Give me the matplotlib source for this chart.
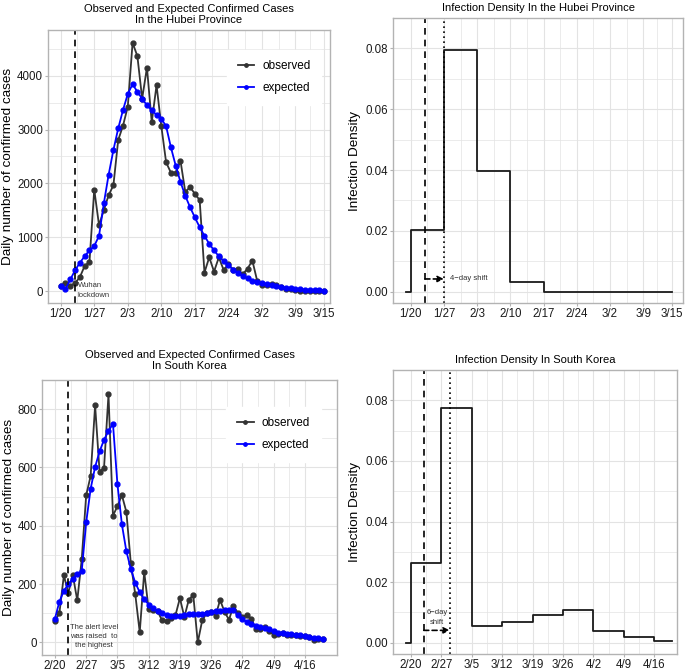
import matplotlib
matplotlib.use('Agg')
import matplotlib.pyplot as plt
import numpy as np

plt.rcParams['font.family'] = ['Liberation Sans', 'DejaVu Sans']

# Hubei: days since 1/20
hubei_ticks = ['1/20', '1/27', '2/3', '2/10', '2/17', '2/24', '3/2', '3/9', '3/15']
hubei_tick_days = [0, 7, 14, 21, 28, 35, 42, 49, 55]
hubei_obs = [105, 153, 100, 153, 263, 471, 541, 1885, 1226, 1507,
             1781, 1967, 2805, 3070, 3424, 4608, 4361, 3573, 4148, 3135,
             3822, 3062, 2391, 2200, 2200, 2420, 1843, 1933, 1807, 1693,
             349, 631, 366, 630, 398, 499, 401, 409, 318, 423,
             570, 196, 114, 115, 134, 126, 74, 41, 36, 17,
             13, 8, 5, 4, 4, 4]
hubei_exp = [105, 40, 220, 390, 530, 650, 760, 840, 1030, 1630,
             2160, 2620, 3020, 3360, 3660, 3840, 3700, 3570, 3450, 3360,
             3270, 3200, 3060, 2670, 2330, 2030, 1770, 1560, 1370, 1190,
             1030, 880, 760, 650, 560, 480, 400, 340, 280, 240,
             200, 175, 150, 130, 110, 95, 80, 65, 55, 45,
             38, 32, 27, 22, 18, 15]
hubei_dens_edges = [-1, 0, 7, 14, 21, 28, 35, 42, 49, 55]
hubei_dens = [0, 0.0203, 0.0795, 0.0397, 0.0031, 0, 0, 0, 0, 0]

# South Korea: days since 2/20
korea_ticks = ['2/20', '2/27', '3/5', '3/12', '3/19', '3/26', '4/2', '4/9', '4/16']
korea_tick_days = [0, 7, 14, 21, 28, 35, 42, 49, 56]
korea_obs = [74, 101, 230, 170, 232, 144, 285, 505, 571, 813,
             586, 599, 851, 435, 467, 505, 448, 272, 165, 35,
             242, 114, 110, 107, 76, 74, 84, 93, 152, 87,
             147, 162, 0, 76, 100, 104, 91, 146, 105, 78,
             125, 101, 89, 94, 81, 47, 47, 53, 39, 27,
             30, 32, 25, 27, 27, 22, 22, 18, 8, 13, 13]
korea_exp = [82, 140, 177, 200, 218, 234, 245, 412, 527, 602,
             655, 695, 725, 750, 543, 405, 313, 252, 205, 172,
             148, 130, 118, 108, 100, 94, 91, 91, 92, 94,
             96, 97, 98, 99, 101, 104, 107, 109, 110, 111,
             113, 93, 80, 70, 63, 57, 53, 50, 45, 38,
             33, 32, 30, 28, 27, 25, 22, 19, 16, 14, 12]
korea_dens_edges = [-1, 0, 7, 14, 21, 28, 35, 42, 49, 56, 60]
korea_dens = [0, 0.0263, 0.0775, 0.0054, 0.0067, 0.0092, 0.0107, 0.0040, 0.0018, 0.0007, 0.0007]

border = '#B3B3B3'
gridc = '#E3E3E3'


def style(ax, tick_days, tick_labels, yticks, ylim, xlim):
    ax.set_xlim(*xlim)
    ax.set_ylim(*ylim)
    ax.set_xticks(tick_days)
    ax.set_xticklabels(tick_labels)
    ax.set_yticks(yticks)
    minx = [(a + b) / 2 for a, b in zip(tick_days[:-1], tick_days[1:])]
    dy = yticks[1] - yticks[0]
    miny = [t + dy / 2 for t in yticks]
    ax.set_xticks(minx, minor=True)
    ax.set_yticks(miny, minor=True)
    ax.grid(True, which='major', color=gridc, lw=0.8)
    ax.grid(True, which='minor', color=gridc, lw=0.5)
    ax.set_axisbelow(True)
    for s in ax.spines.values():
        s.set_color(border)
        s.set_linewidth(1.0)
    ax.tick_params(which='major', length=2, color=border, labelsize=8.3, labelcolor='#1A1A1A', pad=1.5)
    ax.tick_params(which='minor', length=0)


def legend(ax, anchor):
    ax.legend(loc='upper right', bbox_to_anchor=anchor, fontsize=8.5, frameon=True,
              fancybox=False, edgecolor='white', framealpha=1, handlelength=1.4,
              borderpad=0.9, labelspacing=0.85, handletextpad=0.7, markerscale=0.7)


fig = plt.figure(figsize=(6.85, 6.72), dpi=100)

# Hubei cases
ax1 = fig.add_axes([48 / 685, 1 - 303 / 672, 282 / 685, 273 / 672])
d = np.arange(len(hubei_obs))
ax1.plot(d, hubei_obs, color='#333333', lw=1.3, marker='o', ms=3.5, label='observed')
ax1.plot(d, hubei_exp, color='#0000FF', lw=1.3, marker='o', ms=3.5, label='expected')
ax1.axvline(3, color='black', ls=(0, (4, 3)), lw=1.2)
ax1.text(3.6, 20, 'Wuhan\nlockdown', fontsize=5.5, color='#333333', va='center', ha='left', linespacing=1.5)
style(ax1, hubei_tick_days, hubei_ticks, [0, 1000, 2000, 3000, 4000], (-216, 4845), (-2.65, 56.2))
ax1.set_ylabel('Daily number of confirmed cases', fontsize=9.7, labelpad=2)
ax1.set_title('Observed and Expected Confirmed Cases\nIn the Hubei Province', fontsize=8, pad=5, linespacing=1.1)
legend(ax1, (0.99, 0.95))

# Hubei density
ax2 = fig.add_axes([393 / 685, 1 - 303 / 672, 290 / 685, 285 / 672])
ax2.step(hubei_dens_edges, hubei_dens, where='post', color='#1A1A1A', lw=1.3)
ax2.axvline(3, color='black', ls=(0, (4, 3)), lw=1.2)
ax2.axvline(7, color='black', ls=(0, (1, 2)), lw=1.2)
ax2.annotate('', xy=(7, 0.0042), xytext=(3, 0.0042),
             arrowprops=dict(arrowstyle='-|>', color='black', lw=1.2, ls=(0, (3, 2)),
                             shrinkA=0, shrinkB=0, mutation_scale=9))
ax2.text(8.2, 0.0042, '4\u2212day shift', fontsize=5.5, color='#333333', va='center', ha='left')
style(ax2, hubei_tick_days, hubei_ticks, [0, 0.02, 0.04, 0.06, 0.08], (-0.0037, 0.0834), (-3.73, 57.4))
ax2.set_yticklabels(['0.00', '0.02', '0.04', '0.06', '0.08'])
ax2.set_ylabel('Infection Density', fontsize=9.7, labelpad=3)
ax2.set_title('Infection Density In the Hubei Province', fontsize=8, pad=5)

# Korea cases
ax3 = fig.add_axes([42 / 685, 1 - 655 / 672, 295 / 685, 275 / 672])
d = np.arange(len(korea_obs))
ax3.plot(d, korea_obs, color='#333333', lw=1.3, marker='o', ms=3.5, label='observed')
ax3.plot(d, korea_exp, color='#0000FF', lw=1.3, marker='o', ms=3.5, label='expected')
ax3.axvline(3, color='black', ls=(0, (4, 3)), lw=1.2)
ax3.text(8.8, 20, 'The alert level\nwas raised  to\nthe highest', fontsize=5.5, color='#333333',
         va='center', ha='center', linespacing=1.4)
style(ax3, korea_tick_days, korea_ticks, [0, 200, 400, 600, 800], (-43, 895), (-2.9, 63.2))
ax3.set_ylabel('Daily number of confirmed cases', fontsize=9.7, labelpad=2)
ax3.set_title('Observed and Expected Confirmed Cases\nIn South Korea', fontsize=8, pad=8, linespacing=1.1)
legend(ax3, (0.965, 0.925))

# Korea density
ax4 = fig.add_axes([393 / 685, 1 - 654 / 672, 284 / 685, 284 / 672])
ax4.step(korea_dens_edges, korea_dens, where='post', color='#1A1A1A', lw=1.3)
ax4.axvline(3, color='black', ls=(0, (4, 3)), lw=1.2)
ax4.axvline(9, color='black', ls=(0, (1, 2)), lw=1.2)
ax4.annotate('', xy=(9, 0.0041), xytext=(3, 0.0041),
             arrowprops=dict(arrowstyle='-|>', color='black', lw=1.2, ls=(0, (3, 2)),
                             shrinkA=0, shrinkB=0, mutation_scale=9))
ax4.text(6.0, 0.0082, '6\u2212day\nshift', fontsize=5.5, color='#333333', va='center', ha='center', linespacing=1.6)
style(ax4, korea_tick_days, korea_ticks, [0, 0.02, 0.04, 0.06, 0.08], (-0.0037, 0.0811), (-4.07, 61.2))
ax4.set_yticklabels(['0.00', '0.02', '0.04', '0.06', '0.08'])
ax4.set_ylabel('Infection Density', fontsize=9.7, labelpad=3)
ax4.set_title('Infection Density In South Korea', fontsize=8, pad=5)

fig.savefig('out.png', dpi=100)
